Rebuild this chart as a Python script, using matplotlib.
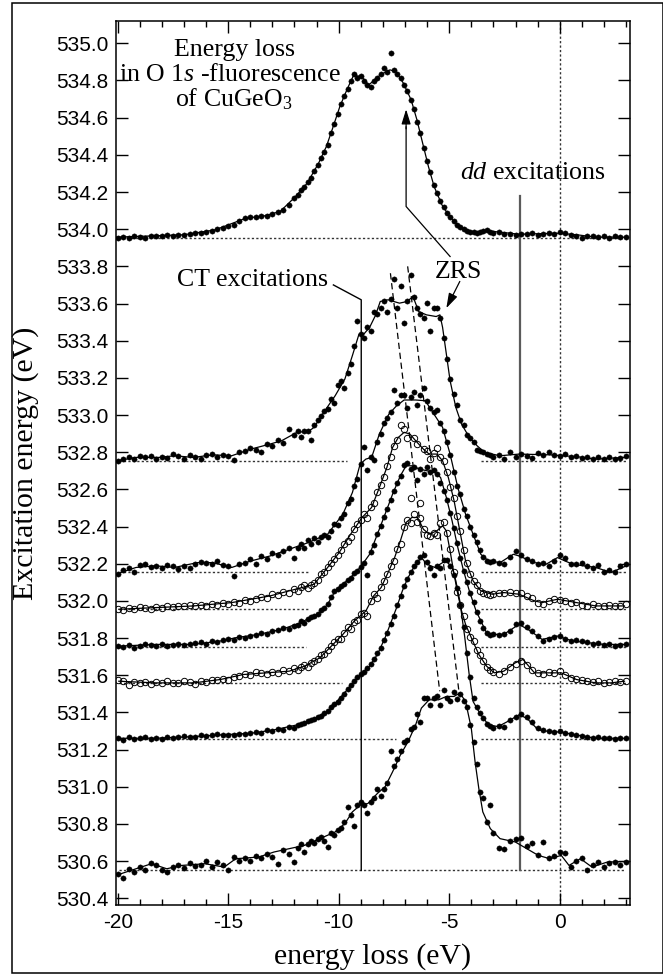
import numpy as np
import matplotlib
matplotlib.use("Agg")
import matplotlib.pyplot as plt
from matplotlib.ticker import MultipleLocator, FormatStrFormatter
from matplotlib.patches import Rectangle

plt.rcParams.update({
    "font.family": "Liberation Sans",
    "mathtext.fontset": "custom",
    "mathtext.rm": "Liberation Serif",
    "mathtext.it": "Liberation Serif:italic",
    "axes.linewidth": 1.1,
    "axes.unicode_minus": False,
})

SERIF = "Liberation Serif"

# energy-loss grid shared by all measured spectra (eV)
loss_grid = [
    -20.0, -19.75, -19.5, -19.25, -19.0, -18.75, -18.5, -18.25, -18.0, -17.75,
    -17.5, -17.25, -17.0, -16.75, -16.5, -16.25, -16.0, -15.75, -15.5, -15.25,
    -15.0, -14.75, -14.5, -14.25, -14.0, -13.75, -13.5, -13.25, -13.0, -12.75,
    -12.5, -12.25, -12.0,
    -11.85, -11.7, -11.55, -11.4, -11.25, -11.1, -10.95, -10.8, -10.65, -10.5,
    -10.35, -10.2, -10.05, -9.9, -9.75, -9.6, -9.45, -9.3, -9.15, -9.0,
    -8.85, -8.7, -8.55, -8.4, -8.25, -8.1, -7.95, -7.8, -7.65, -7.5,
    -7.35, -7.2, -7.05, -6.9, -6.75, -6.6, -6.45, -6.3, -6.15, -6.0,
    -5.85, -5.7, -5.55, -5.4, -5.25, -5.1, -4.95, -4.8, -4.65, -4.5,
    -4.35, -4.2, -4.05, -3.9, -3.75, -3.6, -3.45, -3.3, -3.15, -3.0,
    -2.75, -2.5, -2.25, -2.0, -1.75, -1.5, -1.25, -1.0, -0.75, -0.5,
    -0.25, 0.0, 0.25, 0.5, 0.75, 1.0, 1.25, 1.5, 1.75, 2.0,
    2.25, 2.5, 2.75, 3.0,
]

# excitation energy of each spectrum (its baseline), top to bottom
excitation = [533.955, 532.754, 532.156, 531.955, 531.752, 531.557, 531.258, 530.550]
open_marker = [False, False, False, True, False, True, False, False]

# measured intensities above baseline (same units as the y axis)
dots_1 = [
    0.0, 0.005, 0.0, 0.008, 0.004, 0.0, 0.006, 0.01, 0.006, 0.012,
    0.008, 0.014, 0.016, 0.02, 0.022, 0.025, 0.03, 0.036, 0.045, 0.05,
    0.062, 0.07, 0.09, 0.104, 0.108, 0.112, 0.118, 0.115, 0.125, 0.135,
    0.15, 0.175, 0.215,
    0.23, 0.255, 0.27, 0.3, 0.32, 0.36, 0.39, 0.43, 0.46, 0.5,
    0.56, 0.61, 0.665, 0.72, 0.76, 0.8, 0.84, 0.88, 0.86, 0.87,
    0.84, 0.82, 0.81, 0.84, 0.86, 0.88, 0.91, 0.89, 0.995, 0.9,
    0.88, 0.86, 0.82, 0.79, 0.74, 0.69, 0.62, 0.56, 0.48, 0.41,
    0.35, 0.28, 0.24, 0.195, 0.165, 0.13, 0.11, 0.09, 0.07, 0.055,
    0.045, 0.035, 0.03, 0.028, 0.025, 0.03, 0.033, 0.04, 0.03, 0.022,
    0.028, 0.018, 0.02, 0.015, 0.02, 0.018, 0.022, 0.015, 0.02, 0.024,
    0.02, 0.028, 0.022, 0.015, 0.01, 0.0, 0.008, 0.01, 0.004, 0.008,
    0.0, 0.006, 0.002, 0.004,
]
dots_2 = [
    0.0, 0.012, 0.02, 0.01, 0.025, 0.018, 0.028, 0.008, 0.022, 0.015,
    0.035, 0.028, 0.012, 0.03, 0.018, 0.012, 0.03, 0.035, 0.02, 0.03,
    0.025, 0.005, 0.045, 0.05, 0.07, 0.06, 0.045, 0.09, 0.08, 0.11,
    0.095, 0.17, 0.14,
    0.16, 0.13, 0.16, 0.16, 0.11, 0.19, 0.22, 0.24, 0.27, 0.28,
    0.33, 0.31, 0.41, 0.43, 0.39, 0.47, 0.52, 0.62, 0.75, 0.68,
    0.66, 0.72, 0.70, 0.80, 0.79, 0.82, 0.86, 0.80, 0.87, 0.98,
    0.82, 0.94, 0.74, 0.86, 1.0, 0.88, 0.82, 0.79, 0.77, 0.85,
    0.70, 0.82, 0.82, 0.77, 0.66, 0.55, 0.44, 0.36, 0.30, 0.22,
    0.19, 0.14, 0.12, 0.10, 0.06, 0.05, 0.045, 0.035, 0.03, 0.02,
    0.03, 0.01, 0.045, 0.02, 0.035, 0.028, 0.015, 0.04, 0.03, 0.045,
    0.03, 0.025, 0.035, 0.02, 0.028, 0.015, 0.022, 0.01, 0.018, 0.012,
    0.02, 0.008, 0.015, 0.025,
]
dots_3 = [
    -0.01, 0.01, 0.02, 0.0, 0.035, 0.04, 0.025, 0.03, 0.02, 0.035,
    0.03, 0.015, 0.03, 0.02, 0.04, 0.055, 0.05, 0.045, 0.06, 0.035,
    0.03, -0.02, 0.04, 0.05, 0.07, 0.045, 0.085, 0.07, 0.1, 0.09,
    0.11, 0.13, 0.075,
    0.13, 0.15, 0.13, 0.17, 0.15, 0.18, 0.16, 0.19, 0.2, 0.19,
    0.22, 0.26, 0.25, 0.29, 0.31, 0.37, 0.39, 0.46, 0.50, 0.58,
    0.67, 0.55, 0.62, 0.60, 0.70, 0.74, 0.80, 0.83, 0.86, 0.98,
    0.91, 0.95, 0.95, 0.88, 0.94, 0.97, 0.90, 0.95, 0.99, 0.92,
    0.88, 0.86, 0.87, 0.80, 0.76, 0.70, 0.63, 0.54, 0.46, 0.42,
    0.34, 0.30, 0.24, 0.20, 0.16, 0.12, 0.08, 0.06, 0.055, 0.06,
    0.05, 0.04, 0.08, 0.11, 0.09, 0.07, 0.06, 0.04, 0.05, 0.03,
    0.06, 0.09, 0.075, 0.045, 0.04, 0.05, 0.03, 0.02, 0.035, 0.0,
    0.01, 0.0, 0.03, 0.04,
]
dots_4 = [
    0.0, -0.005, 0.005, 0.0, 0.01, 0.005, 0.0, 0.012, 0.008, 0.015,
    0.01, 0.02, 0.015, 0.022, 0.018, 0.025, 0.02, 0.03, 0.025, 0.035,
    0.03, 0.04, 0.035, 0.05, 0.045, 0.055, 0.065, 0.06, 0.08, 0.075,
    0.095, 0.09, 0.11,
    0.1, 0.12, 0.13, 0.115, 0.13, 0.14, 0.16, 0.19, 0.2, 0.23,
    0.25, 0.27, 0.29, 0.32, 0.35, 0.37, 0.39, 0.43, 0.46, 0.48,
    0.51, 0.49, 0.55, 0.57, 0.63, 0.67, 0.71, 0.77, 0.82, 0.88,
    0.91, 0.99, 0.97, 0.92, 0.60, 0.92, 0.89, 0.57, 0.86, 0.85,
    0.81, 0.84, 0.87, 0.82, 0.80, 0.74, 0.66, 0.60, 0.50, 0.42,
    0.32, 0.25, 0.19, 0.15, 0.13, 0.10, 0.09, 0.08, 0.075, 0.08,
    0.09, 0.085, 0.095, 0.09, 0.085, 0.07, 0.06, 0.035, 0.03, 0.045,
    0.055, 0.05, 0.045, 0.035, 0.04, 0.025, 0.02, 0.03, 0.015, 0.02,
    0.025, 0.015, 0.02, 0.03,
]
dots_5 = [
    0.005, 0.0, 0.01, -0.005, 0.008, 0.015, 0.01, 0.005, 0.015, 0.008,
    0.012, 0.018, 0.01, 0.015, 0.02, 0.025, 0.018, 0.03, 0.025, 0.04,
    0.045, 0.04, 0.055, 0.05, 0.06, 0.065, 0.075, 0.07, 0.085, 0.09,
    0.1, 0.095, 0.115,
    0.12, 0.14, 0.13, 0.15, 0.16, 0.165, 0.18, 0.2, 0.21, 0.23,
    0.27, 0.3, 0.31, 0.33, 0.34, 0.36, 0.37, 0.4, 0.41, 0.43,
    0.45, 0.39, 0.51, 0.55, 0.61, 0.65, 0.70, 0.74, 0.79, 0.84,
    0.88, 0.92, 0.98, 0.99, 0.96, 0.97, 0.90, 0.96, 0.93, 0.97,
    0.94, 0.95, 0.93, 0.88, 0.84, 0.79, 0.72, 0.64, 0.56, 0.48,
    0.41, 0.35, 0.29, 0.24, 0.19, 0.14, 0.10, 0.075, 0.065, 0.07,
    0.065, 0.07, 0.085, 0.125, 0.13, 0.11, 0.085, 0.06, 0.035, 0.045,
    0.055, 0.06, 0.045, 0.035, 0.04, 0.03, 0.025, 0.015, 0.02, 0.01,
    0.015, 0.008, 0.012, 0.015,
]
dots_6 = [
    0.015, 0.01, -0.01, 0.005, 0.0, 0.008, -0.003, 0.005, 0.0, 0.01,
    0.004, 0.0, 0.012, 0.005, -0.002, 0.01, 0.008, 0.015, 0.02, 0.025,
    0.02, 0.035, 0.04, 0.05, 0.045, 0.06, 0.055, 0.05, 0.06, 0.055,
    0.07, 0.065, 0.08,
    0.07, 0.09, 0.1, 0.085, 0.11, 0.12, 0.13, 0.15, 0.155, 0.18,
    0.2, 0.22, 0.24, 0.24, 0.27, 0.3, 0.29, 0.33, 0.34, 0.37,
    0.38, 0.36, 0.44, 0.48, 0.46, 0.52, 0.55, 0.59, 0.63, 0.66,
    0.72, 0.75, 0.84, 0.88, 0.86, 0.91, 0.87, 0.89, 0.83, 0.80,
    0.79, 0.81, 0.80, 0.86, 0.87, 0.81, 0.72, 0.60, 0.49, 0.42,
    0.36, 0.29, 0.25, 0.23, 0.18, 0.15, 0.12, 0.09, 0.07, 0.06,
    0.05, 0.065, 0.09, 0.105, 0.12, 0.1, 0.07, 0.055, 0.05, 0.06,
    0.055, 0.065, 0.045, 0.03, 0.025, 0.015, 0.01, 0.005, 0.01, 0.0,
    0.005, 0.01, 0.008, 0.012,
]
dots_7 = [
    0.005, -0.005, 0.008, 0.0, 0.003, 0.01, 0.0, 0.005, 0.0, 0.008,
    0.003, 0.01, 0.015, 0.008, 0.012, 0.02, 0.015, 0.018, 0.025, 0.02,
    0.022, 0.018, 0.028, 0.025, 0.03, 0.035, 0.03, 0.045, 0.04, 0.055,
    0.05, 0.065, 0.06,
    0.075, 0.08, 0.085, 0.095, 0.1, 0.105, 0.12, 0.125, 0.14, 0.15,
    0.17, 0.19, 0.2, 0.22, 0.24, 0.27, 0.29, 0.31, 0.33, 0.35,
    0.36, 0.38, 0.4, 0.43, 0.46, 0.49, 0.53, 0.57, 0.62, 0.66,
    0.72, 0.77, 0.82, 0.86, 0.9, 0.93, 0.95, 0.98, 0.99, 0.95,
    0.92, 0.88, 0.93, 0.92, 0.96, 0.96, 0.93, 0.88, 0.81, 0.72,
    0.6, 0.46, 0.33, 0.22, 0.17, 0.14, 0.11, 0.08, 0.07, 0.06,
    0.07, 0.065, 0.1, 0.12, 0.135, 0.115, 0.09, 0.06, 0.045, 0.04,
    0.035, 0.04, 0.03, 0.028, 0.02, 0.015, 0.008, 0.005, 0.008, 0.002,
    0.006, 0.0, 0.004, 0.003,
]
dots_8 = [
    -0.02, -0.04, 0.01, -0.01, 0.02, 0.0, 0.04, 0.03, 0.0, -0.01,
    0.02, 0.03, 0.015, 0.04, 0.025, 0.03, 0.05, 0.02, 0.045, 0.03,
    0.0, 0.07, 0.05, 0.065, 0.05, 0.08, 0.065, 0.09, 0.07, 0.035,
    0.11, 0.09, 0.045,
    0.12, 0.14, 0.1, 0.14, 0.16, 0.15, 0.17, 0.18, 0.16, 0.125,
    0.2, 0.19, 0.22, 0.23, 0.26, 0.34, 0.3, 0.24, 0.35, 0.37,
    0.35, 0.31, 0.37, 0.39, 0.44, 0.40, 0.44, 0.47, 0.64, 0.56,
    0.6, 0.64, 0.69, 0.7, 0.76, 0.77, 0.84, 0.80, 0.93, 0.93,
    0.89, 0.93, 0.94, 0.89, 0.97, 0.93, 0.91, 0.96, 0.92, 0.95,
    0.91, 0.88, 0.78, 0.69, 0.57, 0.42, 0.39, 0.26, 0.35, 0.2,
    0.12, 0.115, 0.16, 0.17, 0.175, 0.13, 0.15, 0.085, 0.155, 0.065,
    0.08, 0.1, 0.095, 0.02, 0.05, 0.065, 0.0, 0.03, 0.045, 0.02,
    0.04, 0.045, 0.03, 0.045,
]

# smoothed curves through each spectrum: (energy loss, intensity above baseline)
curve_1_x = [-20.05, -17.0, -15.6, -14.2, -13.35, -12.65, -11.95, -11.43, -10.91, -10.56,
             -10.30, -9.95, -9.60, -9.34, -8.99, -8.64, -8.12, -7.68, -7.42, -7.07,
             -6.72, -6.46, -6.20, -5.94, -5.68, -5.33, -4.98, -4.55, -3.94, -3.24,
             -1.85, -0.1, 0.77, 1.64, 3.03]
curve_1_y = [0.002, 0.015, 0.041, 0.104, 0.117, 0.14, 0.221, 0.292, 0.40, 0.489,
             0.579, 0.704, 0.803, 0.869, 0.869, 0.821, 0.875, 0.902, 0.893, 0.83,
             0.74, 0.633, 0.507, 0.382, 0.274, 0.176, 0.113, 0.059, 0.029, 0.036,
             0.018, 0.023, 0.015, 0.002, 0.002]
curve_2_x = [-19.86, -19.17, -18.13, -17.43, -16.57, -15.70, -14.84, -13.97, -13.10, -12.58,
             -11.89, -11.37, -11.11, -10.68, -10.16, -9.72, -9.38, -9.08, -8.86, -8.60,
             -8.34, -8.12, -7.77, -7.25, -6.90, -6.64, -6.38, -6.03, -5.59, -5.42,
             -5.30, -5.13, -4.96, -4.70, -4.44, -4.09, -3.74, -3.40, -2.70, -1.84,
             -0.45, 0.76, 1.63, 2.93]
curve_2_y = [0.004, 0.018, 0.018, 0.027, 0.018, 0.032, 0.027, 0.063, 0.09, 0.108,
             0.153, 0.158, 0.18, 0.26, 0.35, 0.44, 0.566, 0.682, 0.682, 0.718,
             0.781, 0.857, 0.866, 0.848, 0.857, 0.884, 0.803, 0.785, 0.776, 0.785,
             0.718, 0.575, 0.431, 0.287, 0.197, 0.126, 0.081, 0.045, 0.027, 0.036,
             0.032, 0.022, 0.009, 0.018]
curve_3_x = [-19.86, -19.17, -18.30, -17.43, -16.40, -15.70, -14.84, -13.97, -13.10, -12.24,
             -11.37, -10.50, -9.81, -9.38, -9.03, -8.77, -8.51, -8.16, -7.73, -7.38,
             -7.04, -6.52, -6.08, -5.74, -5.30, -4.96, -4.61, -4.26, -3.92, -3.57,
             -3.22, -2.70, -2.10, -1.84, -1.14, -0.62, -0.10, 0.59, 1.63, 2.32, 3.02]
curve_3_y = [-0.003, 0.024, 0.033, 0.024, 0.05, 0.05, 0.024, 0.059, 0.086, 0.122,
             0.158, 0.203, 0.311, 0.427, 0.58, 0.607, 0.616, 0.742, 0.849, 0.894,
             0.925, 0.925, 0.921, 0.858, 0.778, 0.634, 0.454, 0.311, 0.203, 0.095,
             0.059, 0.05, 0.095, 0.086, 0.05, 0.041, 0.077, 0.041, 0.024, -0.003, 0.033]
curve_4_x = [-19.95, -18.30, -16.57, -14.84, -13.10, -12.24, -11.37, -11.11, -10.50, -9.98,
             -9.46, -8.94, -8.51, -8.16, -7.82, -7.56, -7.30, -7.04, -6.78, -6.52,
             -6.17, -5.91, -5.56, -5.30, -5.04, -4.78, -4.52, -4.26, -3.92, -3.57,
             -3.05, -2.53, -1.84, -1.14, -0.80, -0.10, 0.76, 1.63, 2.93]
curve_4_y = [0.0, 0.009, 0.018, 0.036, 0.072, 0.099, 0.126, 0.135, 0.225, 0.305,
             0.404, 0.494, 0.548, 0.655, 0.763, 0.871, 0.925, 0.952, 0.943, 0.907,
             0.862, 0.835, 0.835, 0.799, 0.709, 0.584, 0.422, 0.26, 0.153, 0.099,
             0.081, 0.09, 0.081, 0.045, 0.036, 0.054, 0.036, 0.018, 0.018]
curve_5_x = [-19.86, -18.30, -16.57, -15.36, -14.66, -13.62, -12.58, -11.72, -10.85, -10.50,
             -10.16, -9.46, -9.03, -8.60, -8.25, -7.90, -7.56, -7.21, -6.95, -6.69,
             -6.34, -6.0, -5.65, -5.39, -5.13, -4.87, -4.61, -4.35, -4.09, -3.80,
             -3.57, -3.31, -3.05, -2.53, -1.84, -1.32, -0.80, -0.10, 0.59, 1.28,
             1.98, 2.93]
curve_5_y = [0.005, 0.014, 0.014, 0.032, 0.05, 0.068, 0.095, 0.131, 0.185, 0.23,
             0.302, 0.374, 0.428, 0.499, 0.607, 0.715, 0.823, 0.921, 0.975, 0.975,
             0.957, 0.948, 0.939, 0.912, 0.805, 0.679, 0.535, 0.41, 0.302, 0.2,
             0.14, 0.077, 0.068, 0.068, 0.122, 0.086, 0.041, 0.059, 0.032, 0.023,
             0.014, 0.014]
curve_6_x = [-19.95, -18.30, -16.57, -15.36, -14.32, -13.28, -12.24, -11.54, -10.85, -10.33,
             -9.81, -9.29, -8.77, -8.42, -8.08, -7.73, -7.47, -7.21, -6.95, -6.69,
             -6.43, -6.17, -5.91, -5.56, -5.30, -5.13, -4.96, -4.78, -4.61, -4.44,
             -4.26, -4.0, -3.66, -3.31, -2.96, -2.53, -2.01, -1.66, -1.14, -0.45,
             0.07, 0.76, 1.63, 2.32, 2.93]
curve_6_y = [0.011, 0.002, 0.002, 0.02, 0.047, 0.056, 0.065, 0.092, 0.137, 0.2,
             0.263, 0.335, 0.389, 0.47, 0.515, 0.605, 0.676, 0.766, 0.865, 0.892,
             0.892, 0.829, 0.802, 0.82, 0.847, 0.82, 0.712, 0.587, 0.479, 0.389,
             0.317, 0.245, 0.155, 0.092, 0.056, 0.065, 0.11, 0.128, 0.056, 0.056,
             0.056, 0.02, 0.002, 0.002, 0.011]
curve_7_x = [-19.95, -18.30, -16.57, -15.36, -13.97, -12.93, -11.89, -11.20, -10.50, -9.81,
             -9.29, -8.94, -8.60, -8.25, -7.90, -7.64, -7.38, -7.12, -6.86, -6.52,
             -6.26, -6.0, -5.65, -5.30, -5.13, -4.87, -4.70, -4.52, -4.30, -4.10,
             -3.92, -3.57, -3.22, -2.79, -2.36, -1.84, -1.49, -0.97, -0.45, 0.07,
             0.76, 1.63, 2.93]
curve_7_y = [0.003, 0.003, 0.012, 0.021, 0.03, 0.048, 0.075, 0.102, 0.147, 0.237,
             0.31, 0.355, 0.391, 0.454, 0.544, 0.625, 0.706, 0.796, 0.868, 0.939,
             0.975, 0.939, 0.922, 0.948, 0.957, 0.922, 0.85, 0.742, 0.55, 0.35,
             0.201, 0.129, 0.075, 0.066, 0.093, 0.129, 0.111, 0.048, 0.039, 0.036,
             0.021, 0.003, 0.003]
curve_8_x = [-19.86, -19.17, -18.47, -17.78, -17.09, -16.05, -15.18, -14.66, -13.62, -12.93,
             -12.24, -11.54, -10.85, -10.16, -9.72, -9.38, -9.03, -8.68, -8.25, -7.90,
             -7.56, -7.21, -6.86, -6.52, -6.26, -5.91, -5.48, -5.13, -4.78, -4.52,
             -4.26, -4.00, -3.83, -3.66, -3.48, -3.14, -2.70, -2.01, -1.49, -0.97,
             -0.45, 0.07, 0.42, 0.94, 1.46, 2.15, 2.93]
curve_8_y = [-0.018, 0.009, 0.036, 0.009, 0.027, 0.036, 0.018, 0.063, 0.072, 0.099,
             0.117, 0.135, 0.171, 0.207, 0.252, 0.315, 0.351, 0.36, 0.414, 0.45,
             0.531, 0.621, 0.693, 0.783, 0.873, 0.918, 0.918, 0.936, 0.936, 0.955,
             0.909, 0.765, 0.585, 0.441, 0.315, 0.225, 0.171, 0.153, 0.117, 0.081,
             0.063, 0.081, 0.027, 0.063, 0.018, 0.045, 0.048]

# dotted baseline segments (energy-loss ranges) for each spectrum
baseline_spans = [
    [(-20.0, 3.0)],
    [(-19.95, -9.64), (-3.57, 3.02)],
    [(-19.95, -11.28), (-3.57, 3.02)],
    [(-19.95, -11.28), (-3.57, 3.02)],
    [(-19.95, -11.46), (-3.57, 3.02)],
    [(-19.95, -9.84), (-3.57, 3.02)],
    [(-19.95, -7.42), (-3.57, 3.02)],
    [(-19.95, 2.95)],
]

all_dots = [dots_1, dots_2, dots_3, dots_4, dots_5, dots_6, dots_7, dots_8]
all_curves = [(curve_1_x, curve_1_y), (curve_2_x, curve_2_y), (curve_3_x, curve_3_y),
              (curve_4_x, curve_4_y), (curve_5_x, curve_5_y), (curve_6_x, curve_6_y),
              (curve_7_x, curve_7_y), (curve_8_x, curve_8_y)]

W, H = 663, 975
fig = plt.figure(figsize=(W / 100, H / 100), dpi=100)
ax = fig.add_axes([115.7 / W, 1 - 905 / H, 514 / W, 884 / H])

grid = np.array(loss_grid)
dotted = (0, (1.6, 1.6))

for base, spans, dots, (cx, cy), is_open in zip(excitation, baseline_spans, all_dots,
                                               all_curves, open_marker):
    for x0, x1 in spans:
        ax.plot([x0, x1], [base, base], color="#333333", lw=1.0, ls=dotted, zorder=1)
    ax.plot(cx, base + np.array(cy), color="k", lw=0.9, zorder=2)
    if is_open:
        ax.plot(grid, base + np.array(dots), "o", ms=4.6, mfc="none", mec="k", mew=0.7, zorder=3)
    else:
        ax.plot(grid, base + np.array(dots), "o", ms=3.8, mfc="k", mec="k", mew=0.3, zorder=3)

# reference lines
ax.axvline(0, color="#333333", lw=1.0, ls=dotted, zorder=1)
ax.plot([-1.79, -1.79], [530.55, 534.176], color="#5a5a5a", lw=1.6, zorder=1)
ax.plot([-10.24, -8.98, -8.98], [533.70, 533.62, 530.55], color="k", lw=1.0, zorder=1)
ax.plot([-7.66, -5.43], [533.763, 531.514], color="k", lw=0.9, ls=(0, (5, 3)), zorder=1)
ax.plot([-6.88, -4.57], [533.80, 531.523], color="k", lw=0.9, ls=(0, (5, 3)), zorder=1)

# ZRS arrows
arrow_kw = dict(arrowstyle="-|>,head_length=0.9,head_width=0.28", color="k", lw=0.9,
                shrinkA=0, shrinkB=0)
ax.annotate("", xy=(-5.13, 533.575), xytext=(-4.52, 533.719), arrowprops=arrow_kw)
ax.plot([-4.96, -6.95, -6.95], [533.853, 534.122, 534.55], color="k", lw=0.9)
ax.annotate("", xy=(-6.95, 534.645), xytext=(-6.95, 534.54), arrowprops=arrow_kw)

# labels inside the plot
txt = dict(family=SERIF, fontsize=18.6, ha="center", va="center")
ax.text(-14.71, 534.962, "Energy loss", **txt)
ax.text(-14.92, 534.828, r"in O 1$s$ -fluorescence", **txt)
ax.text(-14.74, 534.70, r"of CuGeO$_3$", **txt)
ax.text(-1.23, 534.30, r"$dd$ excitations", **txt)
ax.text(-13.88, 533.728, "CT excitations", **txt)
ax.text(-4.57, 533.772, "ZRS", **txt)

ax.set_xlim(-20.09, 3.167)
ax.set_ylim(530.364, 535.12)
ax.set_xticks([-20, -15, -10, -5, 0])
ax.xaxis.set_minor_locator(MultipleLocator(1))
ax.yaxis.set_major_locator(MultipleLocator(0.2))
ax.yaxis.set_major_formatter(FormatStrFormatter("%.1f"))
ax.tick_params(which="both", direction="in", top=True, right=True, width=1.0,
               labelsize=15, colors="k")
ax.tick_params(axis="x", which="major", length=8.5, pad=6)
ax.tick_params(axis="x", which="minor", length=4.2)
ax.tick_params(axis="y", which="major", length=8.5, pad=5.5)

ax.set_xlabel("energy loss (eV)", family=SERIF, fontsize=21.5)
ax.set_ylabel("Excitation energy (eV)", family=SERIF, fontsize=21.5)
ax.xaxis.label.set_va("center")
ax.yaxis.label.set_va("center")
ax.xaxis.set_label_coords(0.5, -0.0585)
ax.yaxis.set_label_coords(-0.1745, 0.5)

# outer frame of the figure
fig.add_artist(Rectangle((11.7 / W, 1 - 973.3 / H), (662.5 - 11.7) / W, (973.3 - 2.7) / H,
                         transform=fig.transFigure, fill=False, lw=1.1, ec="k"))

fig.savefig("out.png", dpi=100)
